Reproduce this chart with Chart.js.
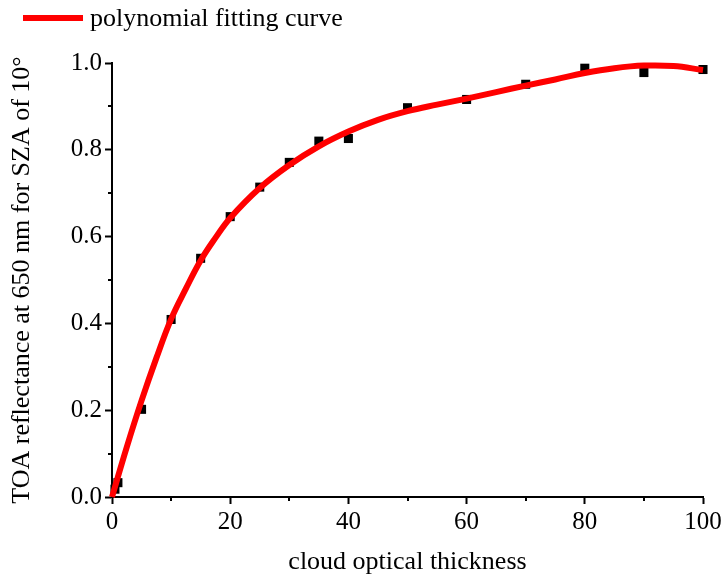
<!DOCTYPE html>
<html>
<head>
<meta charset="utf-8">
<script src="https://cdn.jsdelivr.net/npm/chart.js@4/dist/chart.umd.min.js"></script>
<style>
  html, body { margin: 0; padding: 0; background: #fff; }
  #wrap { width: 726px; height: 578px; }
</style>
</head>
<body>
<div id="wrap"><canvas id="fit-chart"></canvas></div>
<script>
// measured reflectance per cloud optical thickness
const tau = [0.5, 1, 5, 10, 15, 20, 25, 30, 35, 40, 50, 60, 70, 80, 90, 100]
const reflectance = [0.018, 0.033, 0.202, 0.409, 0.55, 0.646, 0.714, 0.771, 0.82, 0.826, 0.897, 0.916, 0.951, 0.988, 0.978, 0.985]

// polynomial fitting curve
const fitTau = [0, 2.5, 5, 7.5, 10, 12.5, 15, 17.5, 20, 25, 30, 35, 40, 45, 50, 55, 60, 65, 70, 75, 80, 85, 90, 95, 100]
const fitValues = [0, 0.115, 0.222, 0.32, 0.41, 0.48, 0.545, 0.597, 0.643, 0.712, 0.765, 0.808, 0.842, 0.869, 0.889, 0.904, 0.918, 0.933, 0.948, 0.962, 0.977, 0.988, 0.994, 0.993, 0.984]

// short ticks between the labelled ones
const xMinorTicks = [10, 30, 50, 70, 90]
const yMinorTicks = [0.1, 0.3, 0.5, 0.7, 0.9]

const serif = 'Liberation Serif'

const minorTicks = {
  id: 'minorTicks',
  afterDraw (chart) {
    const { ctx } = chart
    const x = chart.scales.x
    const y = chart.scales.y
    ctx.save()
    ctx.strokeStyle = '#000'
    ctx.lineWidth = 2
    ctx.beginPath()
    xMinorTicks.forEach((v) => {
      const px = Math.round(x.getPixelForValue(v))
      ctx.moveTo(px, x.top)
      ctx.lineTo(px, x.top + 4)
    })
    yMinorTicks.forEach((v) => {
      const py = Math.round(y.getPixelForValue(v))
      ctx.moveTo(y.right, py)
      ctx.lineTo(y.right - 4, py)
    })
    ctx.stroke()
    ctx.restore()
  }
}

// legend line + label for the fitted curve, top left
const curveLegend = {
  id: 'curveLegend',
  afterDraw (chart) {
    const { ctx } = chart
    const ds = chart.data.datasets[0]
    ctx.save()
    ctx.fillStyle = ds.borderColor
    ctx.fillRect(23, 15, 60, 6)
    ctx.fillStyle = '#000'
    ctx.font = '26px "' + serif + '"'
    ctx.textBaseline = 'middle'
    ctx.fillText(ds.label, 90, 19)
    ctx.restore()
  }
}

const data = {
  datasets: [{
    type: 'line',
    label: 'polynomial fitting curve',
    data: fitTau.map((t, i) => ({ x: t, y: fitValues[i] })),
    borderColor: '#ff0000',
    backgroundColor: '#ff0000',
    borderWidth: 6,
    pointRadius: 0,
    tension: 0.4,
    clip: false,
    order: 0
  }, {
    type: 'scatter',
    label: 'data',
    data: tau.map((t, i) => ({ x: t, y: reflectance[i] })),
    pointStyle: 'rect',
    pointRadius: 6.4,
    backgroundColor: '#000',
    borderColor: '#000',
    borderWidth: 0,
    clip: false,
    order: 1
  }]
}

const config = {
  type: 'scatter',
  data: data,
  plugins: [minorTicks, curveLegend],
  options: {
    responsive: true,
    maintainAspectRatio: false,
    animation: false,
    layout: { padding: { top: 63, right: 23, bottom: 0, left: 0 } },
    plugins: {
      tooltip: { enabled: false },
      legend: { display: false }
    },
    scales: {
      x: {
        type: 'linear',
        min: 0,
        max: 100,
        afterFit: (scale) => { scale.height = 81 },
        border: { display: true, color: '#000', width: 2 },
        grid: { drawOnChartArea: false, drawTicks: true, tickLength: 7, tickWidth: 2, tickColor: '#000' },
        ticks: { stepSize: 20, color: '#000', padding: 3, maxRotation: 0, font: { family: serif, size: 25 } },
        title: { display: true, text: 'cloud optical thickness', color: '#000', padding: { top: 0, bottom: 0 }, font: { family: serif, size: 26 } }
      },
      y: {
        type: 'linear',
        min: 0,
        max: 1,
        afterFit: (scale) => { scale.width = 112 },
        border: { display: true, color: '#000', width: 2 },
        grid: { drawOnChartArea: false, drawTicks: true, tickLength: 7, tickWidth: 2, tickColor: '#000' },
        ticks: { stepSize: 0.2, color: '#000', padding: 3, font: { family: serif, size: 25 }, callback: (v) => v.toFixed(1) },
        title: { display: true, text: 'TOA reflectance at 650 nm for SZA of 10°', color: '#000', padding: { top: 7, bottom: 0 }, font: { family: serif, size: 26 } }
      }
    }
  }
}

const fitChart = new Chart(document.querySelector('#fit-chart'), config)
</script>
</body>
</html>
